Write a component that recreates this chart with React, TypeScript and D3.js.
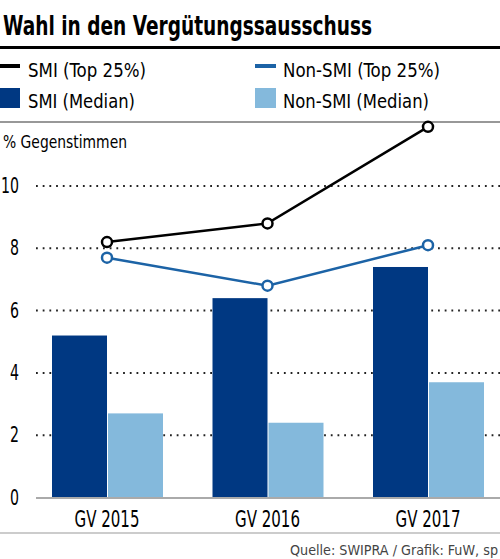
import React, { useEffect } from "react";
import * as d3 from "d3";

const years = ["GV 2015", "GV 2016", "GV 2017"];
const smiMedian = [5.2, 6.4, 7.4];
const nonSmiMedian = [2.7, 2.4, 3.7];
const smiTop = [8.2, 8.8, 11.9];
const nonSmiTop = [7.7, 6.8, 8.1];
const yTicks = [0, 2, 4, 6, 8, 10];

const W = 500;
const H = 559;
const FONT = "'Liberation Sans Narrow', 'DejaVu Sans Condensed', 'Roboto', sans-serif";

const DARK = "#003882";
const LIGHT = "#84b9dc";
const LINE_BLUE = "#1c63a6";

const App: React.FC = () => {
  useEffect(() => {
    document.body.style.margin = "0";
  }, []);

  const x = d3.scalePoint<string>().domain(years).range([107, 428]);
  const y = d3.scaleLinear().domain([0, 10]).range([497.5, 186]);
  const barW = 55;

  const line = d3
    .line<number>()
    .x((_, i) => x(years[i]) as number)
    .y((d) => y(d));

  return (
    <svg width={W} height={H} style={{ display: "block", fontFamily: FONT }}>
      {/* Titel */}
      <text x={3} y={35} fontSize={27} fontWeight="bold" textLength={369} lengthAdjust="spacingAndGlyphs">
        Wahl in den Vergütungssausschuss
      </text>
      <rect x={0} y={46} width={W} height={3} fill="#000" />

      {/* Legende */}
      <rect x={0} y={64} width={20} height={4} fill="#000" />
      <text x={28} y={77} fontSize={20} textLength={118} lengthAdjust="spacingAndGlyphs">SMI (Top 25%)</text>
      <rect x={0} y={88} width={20} height={20} fill={DARK} />
      <text x={28} y={108} fontSize={20} textLength={107} lengthAdjust="spacingAndGlyphs">SMI (Median)</text>
      <rect x={255} y={64} width={21} height={4} fill={LINE_BLUE} />
      <text x={283} y={77} fontSize={20} textLength={157} lengthAdjust="spacingAndGlyphs">Non-SMI (Top 25%)</text>
      <rect x={255} y={88} width={21} height={20} fill={LIGHT} />
      <text x={283} y={108} fontSize={20} textLength={146} lengthAdjust="spacingAndGlyphs">Non-SMI (Median)</text>
      <rect x={0} y={121.5} width={W} height={1} fill="#333" />

      <text x={3} y={148} fontSize={17} textLength={124} lengthAdjust="spacingAndGlyphs">% Gegenstimmen</text>

      {/* Gitter */}
      {yTicks.filter((t) => t > 0).map((t) => (
        <line
          key={t}
          x1={36}
          x2={W}
          y1={y(t)}
          y2={y(t)}
          stroke="#222"
          strokeWidth={2}
          strokeDasharray="1.8 4.9"
        />
      ))}
      {yTicks.map((t) => (
        <text
          key={t}
          x={19 - String(t).length * 9}
          y={y(t) + 7}
          fontSize={21}
          textLength={String(t).length * 9}
          lengthAdjust="spacingAndGlyphs"
        >
          {t}
        </text>
      ))}

      {/* Balken */}
      {years.map((yr, i) => (
        <g key={yr}>
          <rect x={(x(yr) as number) - barW} y={y(smiMedian[i])} width={barW} height={y(0) - y(smiMedian[i])} fill={DARK} />
          <rect x={(x(yr) as number) + 1} y={y(nonSmiMedian[i])} width={barW} height={y(0) - y(nonSmiMedian[i])} fill={LIGHT} />
        </g>
      ))}
      <line x1={36} x2={W} y1={498} y2={498} stroke="#aaa" strokeWidth={2} />

      {/* Linien */}
      <path d={line(smiTop) ?? ""} fill="none" stroke="#000" strokeWidth={2.5} />
      <path d={line(nonSmiTop) ?? ""} fill="none" stroke={LINE_BLUE} strokeWidth={2.5} />
      {smiTop.map((v, i) => (
        <circle key={"s" + i} cx={x(years[i])} cy={y(v)} r={5} fill="#fff" stroke="#000" strokeWidth={2.5} />
      ))}
      {nonSmiTop.map((v, i) => (
        <circle key={"n" + i} cx={x(years[i])} cy={y(v)} r={5} fill="#fff" stroke={LINE_BLUE} strokeWidth={2.5} />
      ))}

      {/* X-Achse */}
      {years.map((yr) => (
        <text key={yr} x={x(yr)} y={527} fontSize={23} textAnchor="middle" textLength={65} lengthAdjust="spacingAndGlyphs">
          {yr}
        </text>
      ))}
      <rect x={0} y={532.5} width={W} height={1} fill="#999" />
      <text x={498} y={555} fontSize={14} fill="#444" textAnchor="end" textLength={208} lengthAdjust="spacingAndGlyphs">
        Quelle: SWIPRA / Grafik: FuW, sp
      </text>
    </svg>
  );
};

export default App;
